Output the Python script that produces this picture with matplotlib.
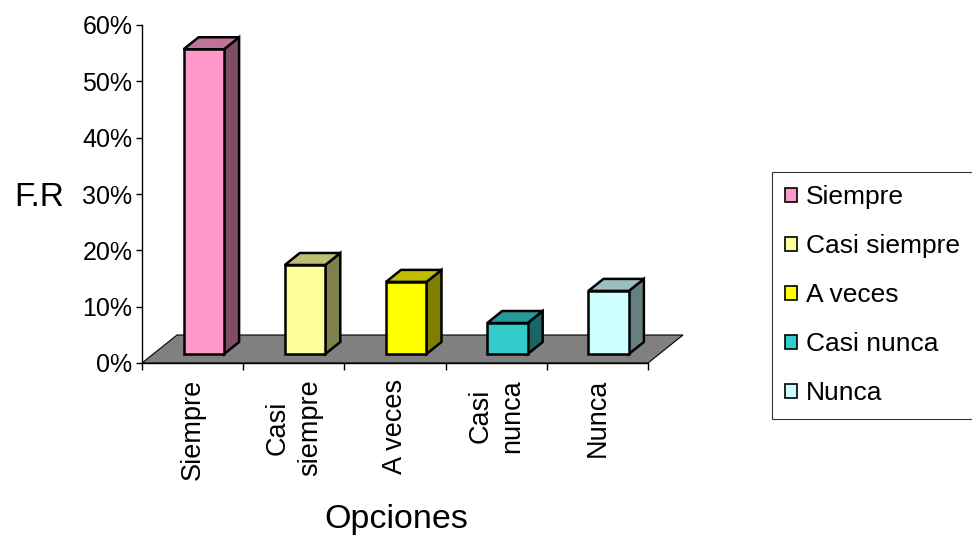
import matplotlib
matplotlib.use("Agg")
import matplotlib.pyplot as plt
from matplotlib.patches import Polygon, Patch
from matplotlib.ticker import PercentFormatter
from matplotlib.colors import to_rgb

plt.rcParams['font.family'] = ['Liberation Sans', 'DejaVu Sans']

# Data
categories = ["Siempre", "Casi siempre", "A veces", "Casi nunca", "Nunca"]
tick_labels = ["Siempre", "Casi\nsiempre", "A veces", "Casi\nnunca", "Nunca"]
values = [0.541, 0.158, 0.128, 0.055, 0.112]
face_colors = ["#FF99CC", "#FFFF99", "#FFFF00", "#33CCCC", "#CCFFFF"]
y_ticks = [0.0, 0.1, 0.2, 0.3, 0.4, 0.5, 0.6]

W, H = 972, 539
fig = plt.figure(figsize=(W / 100, H / 100), dpi=100)
fig.patch.set_facecolor("white")

# Front plane of the plot box, in figure pixels
left, right, top, bottom = 142, 648, 25, 363
ax = fig.add_axes([left / W, (H - bottom) / H, (right - left) / W, (bottom - top) / H])
ax.set_xlim(-0.5, len(categories) - 0.5)
ax.set_ylim(0, 0.6)

# pixel -> data unit conversion for the oblique depth offsets
ux = (len(categories)) / (right - left)
uy = 0.6 / (bottom - top)

def depth(dx_px, dy_px):
    return dx_px * ux, dy_px * uy

floor_d = depth(35, 28)
front_d = depth(35 * 9 / 28, 9)
back_d = depth(35 * 21 / 28, 21)

def shade(color, k):
    r, g, b = to_rgb(color)
    return (r * k, g * k, b * k)

# Floor
x0, x1 = -0.5, len(categories) - 0.5
floor = Polygon([(x0, 0), (x1, 0), (x1 + floor_d[0], floor_d[1]), (x0 + floor_d[0], floor_d[1])],
                closed=True, facecolor="#808080", edgecolor="black", linewidth=0.8,
                clip_on=False, zorder=1)
ax.add_patch(floor)

# 3D bars
bw = 0.4
for i, (v, c) in enumerate(zip(values, face_colors)):
    xl, xr = i - bw / 2, i + bw / 2
    fx, fy = front_d
    bx, by = back_d
    top_face = [(xl + fx, v + fy), (xr + fx, v + fy), (xr + bx, v + by), (xl + bx, v + by)]
    side_face = [(xr + fx, fy), (xr + bx, by), (xr + bx, v + by), (xr + fx, v + fy)]
    front_face = [(xl + fx, fy), (xr + fx, fy), (xr + fx, v + fy), (xl + fx, v + fy)]
    for verts, col in ((side_face, shade(c, 0.5)), (top_face, shade(c, 0.75)), (front_face, to_rgb(c))):
        ax.add_patch(Polygon(verts, closed=True, facecolor=col, edgecolor="black",
                             linewidth=1.8, joinstyle="miter", clip_on=False, zorder=3))

# Axes styling
for s in ("top", "right"):
    ax.spines[s].set_visible(False)
for s in ("left", "bottom"):
    ax.spines[s].set_color("black")
    ax.spines[s].set_linewidth(1.0)
    ax.spines[s].set_zorder(2)
ax.set_facecolor("none")

ax.set_yticks(y_ticks)
ax.yaxis.set_major_formatter(PercentFormatter(1.0, decimals=0))
ax.tick_params(axis="y", direction="out", length=4, width=1, labelsize=18, pad=3, colors="black")

ax.set_xticks([k - 0.5 for k in range(len(categories) + 1)])
ax.set_xticklabels([])
ax.tick_params(axis="x", direction="out", length=5, width=1, colors="black")

# Category labels (rotated)
label_y = -(379 - bottom) / (bottom - top)
for i, lab in enumerate(tick_labels):
    ax.text(i, label_y, lab, transform=ax.get_xaxis_transform(), rotation=90,
            ha="center", va="top", multialignment="center", fontsize=19.5, linespacing=1.3)

# Axis titles
fig.text(39 / W, 1 - 206 / H, "F.R", fontsize=24, ha="center", va="baseline")
fig.text(396 / W, 1 - 528 / H, "Opciones", fontsize=24.5, ha="center", va="baseline")

# Legend
handles = [Patch(facecolor=c, edgecolor="black", linewidth=1.2) for c in face_colors]
leg = fig.legend(handles, categories, loc="upper left",
                 bbox_to_anchor=(772 / W, 1 - 172 / H), bbox_transform=fig.transFigure,
                 frameon=True, fancybox=False, edgecolor="black", fontsize=19,
                 borderpad=0.5, labelspacing=0.95, handlelength=0.45, handleheight=0.45,
                 handletextpad=0.35, borderaxespad=0)
leg.get_frame().set_linewidth(0.8)

fig.savefig("out.png", dpi=100, facecolor="white")
